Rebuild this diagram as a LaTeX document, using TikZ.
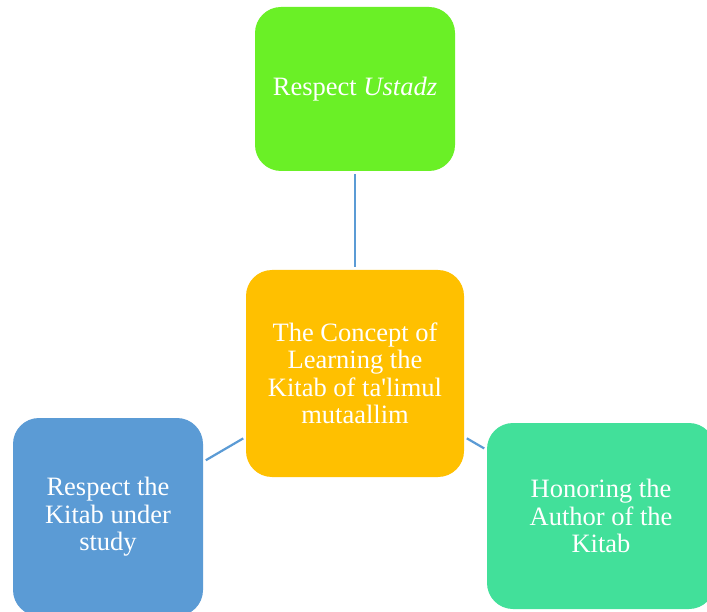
\documentclass[tikz,border=0pt]{standalone}
\usepackage{fontspec}
\setmainfont{Liberation Serif}
\definecolor{cgreen}{HTML}{6AF026}
\definecolor{corange}{HTML}{FFC000}
\definecolor{cblue}{HTML}{5B9BD5}
\definecolor{cteal}{HTML}{42E09A}
\definecolor{cline}{HTML}{5B9BD5}
\tikzset{
  box/.style={rounded corners=26pt, inner sep=0pt, text=white, align=center,
    font=\fontsize{26.5}{27.5}\selectfont},
  link/.style={draw=cline, line width=2.2pt, shorten <=3pt, shorten >=3pt}
}
\begin{document}
\begin{tikzpicture}[x=1pt,y=-1pt]
\clip (0,0) rectangle (707,612);
\fill[white] (0,0) rectangle (707,612);
\node[box, fill=cgreen, minimum width=200pt, minimum height=164pt] (top) at (355,89) {Respect \textit{Ustadz}};
\node[box, fill=corange, minimum width=218pt, minimum height=207pt] (mid) at (355,373.5) {The Concept of\\Learning the\\Kitab of ta\textquotesingle limul\\mutaallim};
\node[box, fill=cblue, minimum width=190pt, minimum height=198pt] (left) at (108,517) {Respect the\\Kitab under\\study};
\node[box, fill=cteal, minimum width=228pt, minimum height=186pt] (right) at (601,516) {Honoring the\\Author of the\\Kitab};
\draw[link] (top) -- (mid);
\draw[link] (mid) -- (left);
\draw[link] (mid) -- (right);
\end{tikzpicture}
\end{document}
